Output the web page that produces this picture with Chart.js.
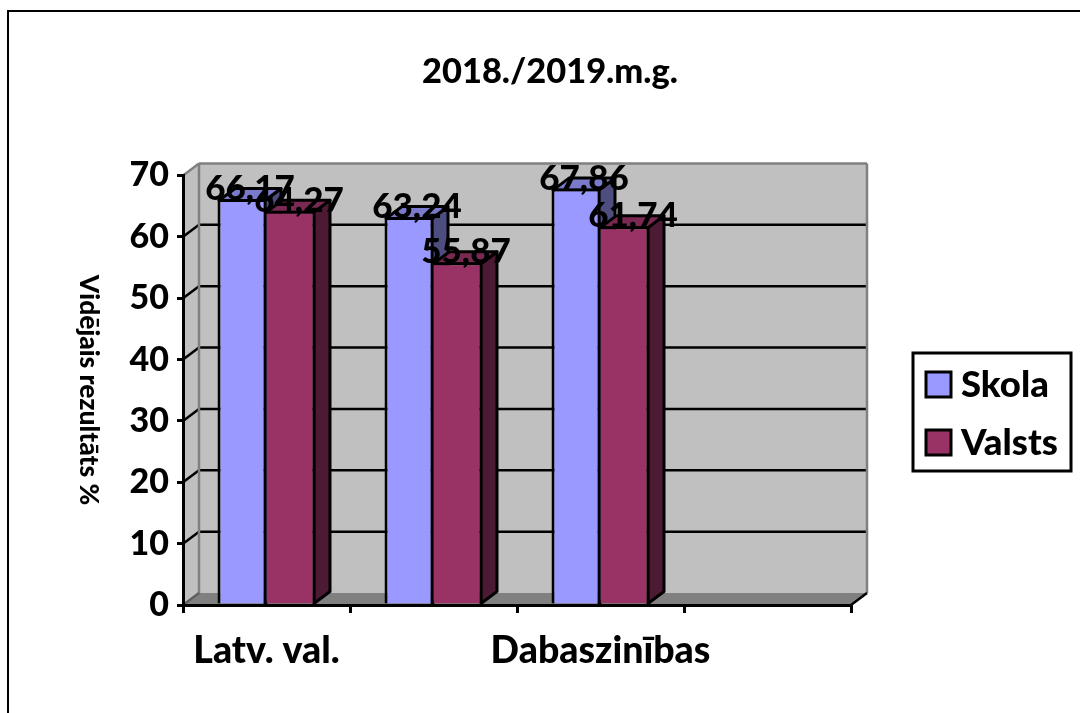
<!DOCTYPE html>
<html lang="lv">
<head>
<meta charset="utf-8">
<title>2018./2019.m.g.</title>
<script src="https://cdn.jsdelivr.net/npm/chart.js@4"></script>
<style>
  html, body { margin: 0; padding: 0; background: #fff; overflow: hidden; }
  #wrap { position: relative; width: 1080px; height: 713px; }
  #frame { position: absolute; left: 7px; top: 10px; right: 0; bottom: 0; border-left: 2px solid #000; border-top: 2px solid #000; }
  canvas { position: absolute; left: 0; top: 0; }
</style>
</head>
<body>
<div id="wrap">
  <div id="frame"></div>
  <canvas id="chart" width="1080" height="713"></canvas>
</div>
<script>
// Dati
const categories = ['Latv. val.', '', 'Dabaszinības', ''];
const skolaValues = [66.17, 63.24, 67.86, null];
const valstsValues = [64.27, 55.87, 61.74, null];
const yTicks = [0, 10, 20, 30, 40, 50, 60, 70];

const titleText = '2018./2019.m.g.';
const yAxisTitle = 'Vidējais rezultāts %';
const fontName = 'Lato, "Open Sans", sans-serif';
const fontWeight = '900';

// 3D dzilums
const depthX = 16;
const depthY = 12;
const lineW = 3;

const faceColors = [
  { front: '#9999ff', top: '#7a7acc', side: '#4d4d80' },
  { front: '#993366', top: '#7a2952', side: '#4d1a33' }
];

function poly(ctx, pts, fill, stroke, width) {
  ctx.beginPath();
  pts.forEach((p, i) => i ? ctx.lineTo(p[0], p[1]) : ctx.moveTo(p[0], p[1]));
  ctx.closePath();
  if (fill) { ctx.fillStyle = fill; ctx.fill(); }
  if (stroke) { ctx.strokeStyle = stroke; ctx.lineWidth = width; ctx.lineJoin = 'round'; ctx.stroke(); }
}

function seg(ctx, x1, y1, x2, y2, color, width) {
  ctx.beginPath();
  ctx.moveTo(x1, y1);
  ctx.lineTo(x2, y2);
  ctx.strokeStyle = color;
  ctx.lineWidth = width;
  ctx.stroke();
}

const box3d = {
  id: 'box3d',
  afterLayout(chart) {
    // virsraksts nav centrets pret visu audeklu
    chart.titleBlock.left = 300;
    chart.titleBlock.right = 800;
  },
  beforeDraw(chart) {
    const { ctx, chartArea: a, scales: { y } } = chart;
    const base = y.getPixelForValue(0);
    const top = y.getPixelForValue(70);
    ctx.save();
    // sienas un gridas
    poly(ctx, [[a.left, base], [a.left + depthX, base - depthY], [a.left + depthX, top - depthY], [a.left, top]], '#c0c0c0');
    poly(ctx, [[a.left + depthX, top - depthY], [a.right + depthX, top - depthY], [a.right + depthX, base - depthY], [a.left + depthX, base - depthY]], '#c0c0c0');
    poly(ctx, [[a.left, base], [a.right, base], [a.right + depthX, base - depthY], [a.left + depthX, base - depthY]], '#808080');
    yTicks.forEach(t => {
      const py = y.getPixelForValue(t);
      if (t > 0 && t < 70) {
        seg(ctx, a.left + depthX, py - depthY, a.right + depthX, py - depthY, '#000', 2.5);
        seg(ctx, a.left, py, a.left + depthX, py - depthY, '#000', 2.5);
      }
    });
    seg(ctx, a.left + depthX, base - depthY, a.left + depthX, top - depthY, '#808080', 2.5);
    seg(ctx, a.left + depthX, top - depthY, a.right + depthX, top - depthY, '#808080', 2.5);
    seg(ctx, a.right + depthX, top - depthY, a.right + depthX, base - depthY, '#808080', 2.5);
    seg(ctx, a.left, top, a.left + depthX, top - depthY, '#808080', 2.5);
    seg(ctx, a.left, base, a.left + depthX, base - depthY, '#606060', 2.5);
    seg(ctx, a.right, base, a.right + depthX, base - depthY, '#000', 2.5);
    ctx.restore();
  },
  beforeDatasetsDraw(chart) {
    const { ctx } = chart;
    ctx.save();
    // sanu un augsas skaldnes: vispirms Skola, tad Valsts
    chart.data.datasets.forEach((ds, i) => {
      const colors = faceColors[i];
      chart.getDatasetMeta(i).data.forEach((bar, j) => {
        if (ds.data[j] === null) return;
        const l = bar.x - bar.width / 2;
        const r = bar.x + bar.width / 2;
        const t = bar.y + lineW / 2;
        const b = bar.base;
        const inL = l + (i === 0 ? lineW / 2 : 0);
        const inR = r - lineW / 2;
        poly(ctx, [[inR, b], [inR + depthX, b - depthY], [inR + depthX, t - depthY], [inR, t]], colors.side, '#000', lineW);
        poly(ctx, [[inL, t], [inR, t], [inR + depthX, t - depthY], [inL + depthX, t - depthY]], colors.top, '#000', lineW);
      });
    });
    ctx.restore();
  },
  afterDatasetsDraw(chart) {
    const { ctx } = chart;
    ctx.save();
    // vertibas virs stabiniem
    ctx.font = fontWeight + ' 35px ' + fontName;
    ctx.fillStyle = '#000';
    ctx.textAlign = 'center';
    ctx.textBaseline = 'alphabetic';
    chart.data.datasets.forEach((ds, i) => {
      const meta = chart.getDatasetMeta(i);
      ds.data.forEach((v, j) => {
        if (v === null) return;
        const bar = meta.data[j];
        ctx.fillText(v.toFixed(2).replace('.', ','), bar.x + 8, bar.y + 1);
      });
    });
    // ass nosaukums lasams no augsas uz leju
    ctx.save();
    ctx.translate(89, 390);
    ctx.rotate(Math.PI / 2);
    ctx.font = fontWeight + ' 26.4px ' + fontName;
    ctx.textBaseline = 'middle';
    ctx.fillText(yAxisTitle, 0, 0);
    ctx.restore();
    // legenda
    ctx.strokeStyle = '#000';
    ctx.lineWidth = 3;
    ctx.strokeRect(913, 353, 158, 118);
    ctx.font = fontWeight + ' 36.5px ' + fontName;
    ctx.textAlign = 'left';
    ctx.textBaseline = 'middle';
    chart.data.datasets.forEach((ds, i) => {
      const ly = 372 + i * 58;
      ctx.fillStyle = ds.backgroundColor;
      ctx.fillRect(926, ly, 25, 25);
      ctx.strokeRect(926, ly, 25, 25);
      ctx.fillStyle = '#000';
      ctx.fillText(ds.label, 961, ly + 13);
    });
    ctx.restore();
  }
};

new Chart(document.getElementById('chart'), {
  type: 'bar',
  data: {
    labels: categories,
    datasets: [
      {
        label: 'Skola',
        data: skolaValues,
        backgroundColor: faceColors[0].front,
        borderColor: '#000',
        borderWidth: { top: lineW, left: lineW, right: lineW, bottom: 0 }
      },
      {
        label: 'Valsts',
        data: valstsValues,
        backgroundColor: faceColors[1].front,
        borderColor: '#000',
        borderWidth: { top: lineW, left: 0, right: lineW, bottom: 0 }
      }
    ]
  },
  options: {
    responsive: false,
    animation: false,
    categoryPercentage: 98 / 167,
    barPercentage: 1,
    layout: { padding: { left: 83, right: 229, top: 0, bottom: 0 } },
    plugins: {
      legend: { display: false },
      tooltip: { enabled: false },
      title: {
        display: true,
        text: titleText,
        color: '#000',
        font: { family: fontName, size: 34.4, weight: fontWeight, lineHeight: 1.2 },
        padding: { top: 51, bottom: 83.2 }
      }
    },
    scales: {
      x: {
        afterFit: scale => { scale.height = 108; },
        border: { color: '#000', width: 3 },
        grid: { drawOnChartArea: false, color: '#000', tickColor: '#000', tickLength: 8, lineWidth: 3 },
        ticks: { color: '#000', padding: 15, autoSkip: false, maxRotation: 0, font: { family: fontName, size: 37.5, weight: fontWeight } }
      },
      y: {
        min: 0,
        max: 70,
        afterFit: scale => { scale.width = 100; },
        afterBuildTicks: scale => { scale.ticks = yTicks.map(value => ({ value })); },
        border: { color: '#000', width: 3 },
        grid: { drawOnChartArea: false, color: '#000', tickColor: '#000', tickLength: 6, lineWidth: 3 },
        ticks: { color: '#000', padding: 8, font: { family: fontName, size: 34, weight: fontWeight } }
      }
    }
  },
  plugins: [box3d]
});
</script>
</body>
</html>
